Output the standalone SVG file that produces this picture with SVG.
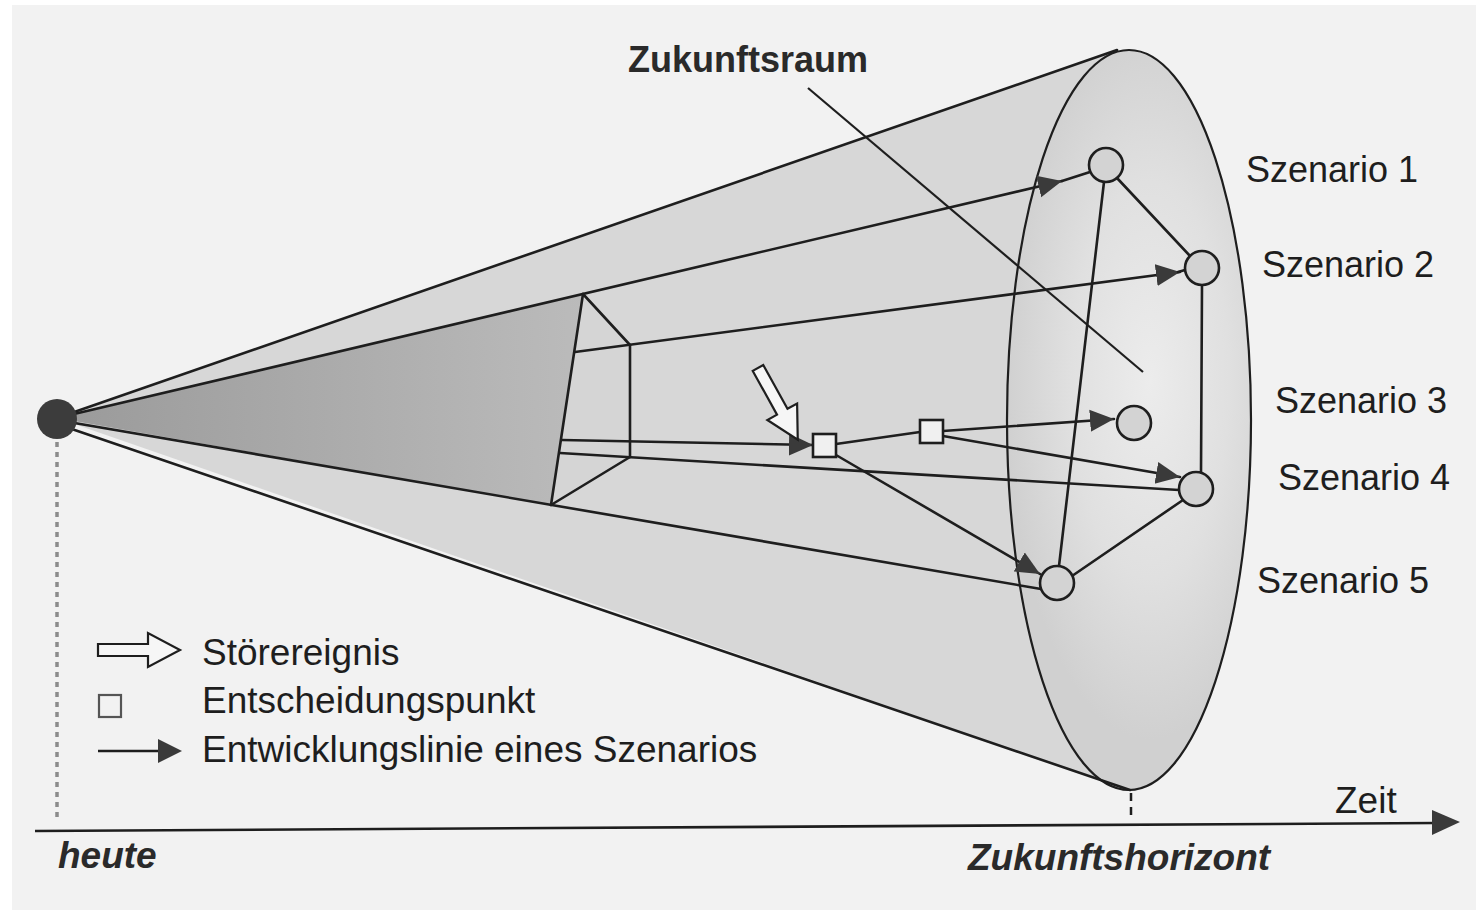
<svg xmlns="http://www.w3.org/2000/svg" width="1476" height="910" viewBox="0 0 1476 910">
<style>
.ln{stroke:#1e1e1e;stroke-width:2.6;fill:none;stroke-linecap:round}
.thin{stroke:#1e1e1e;stroke-width:2.2;fill:none}
.node{fill:#d3d3d3;stroke:#1e1e1e;stroke-width:2.6}
.dp{fill:#f0f0f0;stroke:#1e1e1e;stroke-width:2.6}
.lbl{font-family:"Liberation Sans",Arial,sans-serif;font-size:36px;fill:#1e1e1e}
.leg{font-family:"Liberation Sans",Arial,sans-serif;font-size:37px;fill:#1e1e1e}
.bi{font-family:"Liberation Sans",Arial,sans-serif;font-size:37px;font-weight:bold;font-style:italic;fill:#2a2a2a}
.hollow{fill:#f6f6f6;stroke:#1e1e1e;stroke-width:2.2;stroke-linejoin:miter}
</style>
<defs>
<marker id="ah" viewBox="0 0 24 24" refX="24" refY="12" markerWidth="24" markerHeight="24" markerUnits="userSpaceOnUse" orient="auto">
<path d="M0,1 L24,12 L0,23 z" fill="#3a3a3a"/>
</marker>
<linearGradient id="dark" gradientUnits="userSpaceOnUse" x1="57" y1="418" x2="600" y2="418">
<stop offset="0" stop-color="#9a9a9a"/>
<stop offset="1" stop-color="#bcbcbc"/>
</linearGradient>
<radialGradient id="ell" gradientUnits="userSpaceOnUse" cx="1150" cy="380" r="360" gradientTransform="translate(1150 380) scale(0.4 1) translate(-1150 -380)">
<stop offset="0" stop-color="#ececec"/>
<stop offset="0.55" stop-color="#e0e0e0"/>
<stop offset="1" stop-color="#d0d0d0"/>
</radialGradient>
<polygon id="hol" points="0,-6 50,-6 50,-17 82,0 50,17 50,6 0,6"/>
</defs>
<rect x="0" y="0" width="1476" height="910" fill="#f2f2f2"/>
<rect x="0" y="0" width="12" height="910" fill="#ffffff"/>
<rect x="0" y="0" width="1476" height="5" fill="#ffffff"/>

<g id="cone">
<polygon points="57,418 1117,50 1130,790" fill="#d7d7d7"/>
<ellipse cx="1129" cy="420" rx="122" ry="370" style="fill:url(#ell);stroke:#1e1e1e;stroke-width:2.2"/>
<polygon points="57,418 583,294 551,505" fill="url(#dark)"/>
<polygon points="583,294 630,345 630,457 551,505" fill="#d5d5d5"/>
</g>

<g id="axis">
<line x1="57" y1="442" x2="57" y2="822" stroke="#8c8c8c" stroke-width="3.5" stroke-dasharray="5 5"/>
<line x1="1131" y1="793" x2="1131" y2="816" stroke="#1e1e1e" stroke-width="2.5" stroke-dasharray="8 6"/>
<line x1="35" y1="831" x2="1436" y2="823" stroke="#1e1e1e" stroke-width="2.6"/>
<path d="M1432,810 L1460,822 L1432,835 z" fill="#3a3a3a"/>
</g>

<g id="connectors">
<line class="ln" x1="57" y1="418" x2="1117" y2="50"/>
<line class="ln" x1="60" y1="425" x2="1130" y2="790"/>
<line class="ln" x1="57" y1="418" x2="1062" y2="181" marker-end="url(#ah)"/>
<line class="ln" x1="1062" y1="181" x2="1090" y2="172"/>
<line class="ln" x1="575" y1="352" x2="1180" y2="272" marker-end="url(#ah)"/>
<line class="ln" x1="1178" y1="272" x2="1185" y2="270"/>
<line class="ln" x1="562" y1="440" x2="813" y2="445" marker-end="url(#ah)"/>
<line class="ln" x1="560" y1="453" x2="1179" y2="490"/>
<line class="ln" x1="57" y1="420" x2="1041" y2="589"/>
<line class="ln" x1="836" y1="444" x2="920" y2="432"/>
<line class="ln" x1="836" y1="455" x2="1040" y2="574" marker-end="url(#ah)"/>
<line class="ln" x1="943" y1="431" x2="1114" y2="419" marker-end="url(#ah)"/>
<line class="ln" x1="943" y1="436" x2="1180" y2="477" marker-end="url(#ah)"/>
<line class="ln" x1="1117" y1="178" x2="1190" y2="256"/>
<line class="ln" x1="1104" y1="182" x2="1059" y2="566"/>
<line class="ln" x1="1202" y1="285" x2="1201" y2="472"/>
<line class="ln" x1="1183" y1="500" x2="1072" y2="576"/>
<line class="ln" x1="583" y1="294" x2="551" y2="505"/>
<line class="ln" x1="583" y1="294" x2="630" y2="345"/>
<line class="ln" x1="630" y1="345" x2="630" y2="457"/>
<line class="ln" x1="551" y1="505" x2="630" y2="457"/>
<line class="thin" x1="808" y1="88" x2="1143" y2="372"/>
</g>

<g id="stoerereignis">
<use href="#hol" class="hollow" transform="translate(758,368) rotate(61)"/>
</g>

<g id="d1"><rect class="dp" x="813" y="434" width="23" height="23"/></g>
<g id="d2"><rect class="dp" x="920" y="420" width="23" height="23"/></g>

<g id="s1"><circle class="node" cx="1106" cy="165" r="17"/><text class="lbl" x="1246" y="182">Szenario 1</text></g>
<g id="s2"><circle class="node" cx="1202" cy="268" r="17"/><text class="lbl" x="1262" y="277">Szenario 2</text></g>
<g id="s3"><circle class="node" cx="1134" cy="423" r="17"/><text class="lbl" x="1275" y="413">Szenario 3</text></g>
<g id="s4"><circle class="node" cx="1196" cy="489" r="17"/><text class="lbl" x="1278" y="490">Szenario 4</text></g>
<g id="s5"><circle class="node" cx="1057" cy="583" r="17"/><text class="lbl" x="1257" y="593">Szenario 5</text></g>

<g id="apex"><circle cx="57" cy="419" r="20" fill="#3c3c3c"/></g>

<g id="title"><text x="628" y="72" font-family="'Liberation Sans',Arial,sans-serif" font-size="36" font-weight="bold" fill="#2a2a2a">Zukunftsraum</text></g>

<g id="legend">
<use href="#hol" class="hollow" transform="translate(98,650)"/>
<text class="leg" x="202" y="665">Störereignis</text>
<rect x="99" y="695" width="22" height="22" fill="#f2f2f2" stroke="#555" stroke-width="2.2"/>
<text class="leg" x="202" y="713">Entscheidungspunkt</text>
<line x1="98" y1="751" x2="162" y2="751" stroke="#1e1e1e" stroke-width="2.6"/>
<path d="M158,739 L182,751 L158,763 z" fill="#3a3a3a"/>
<text class="leg" x="202" y="762">Entwicklungslinie eines Szenarios</text>
</g>

<g id="labels">
<text class="bi" x="58" y="868">heute</text>
<text class="bi" x="968" y="870">Zukunftshorizont</text>
<text class="leg" x="1335" y="813">Zeit</text>
</g>
</svg>
